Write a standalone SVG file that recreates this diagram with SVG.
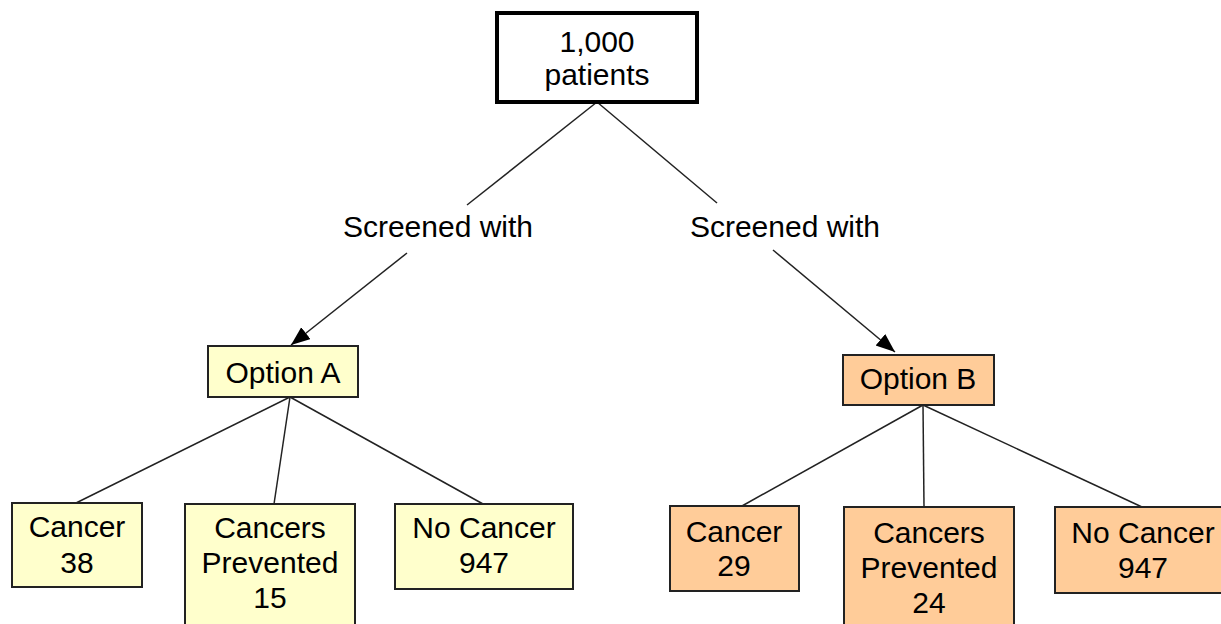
<svg xmlns="http://www.w3.org/2000/svg" width="1221" height="624" viewBox="0 0 1221 624">
<defs>
<style>
text{font-family:"Liberation Sans",Arial,sans-serif;font-size:30px;fill:#000;text-anchor:middle}
.a{fill:#FFFFCC;stroke:#222;stroke-width:2}
.b{fill:#FFCC99;stroke:#222;stroke-width:2}
.c line{stroke:#222;stroke-width:1.5}
</style>
<marker id="arr" markerUnits="userSpaceOnUse" markerWidth="20" markerHeight="16" refX="19" refY="7.5" orient="auto">
<path d="M0,0 L19,7.5 L0,15 Z" fill="#000"/>
</marker>
</defs>
<rect width="1221" height="624" fill="#fff"/>
<g id="connectors" class="c">
<line x1="597" y1="102" x2="467" y2="205"/>
<line x1="407" y1="253" x2="291" y2="345" marker-end="url(#arr)"/>
<line x1="597" y1="102" x2="717" y2="203"/>
<line x1="773" y1="250" x2="895" y2="352" marker-end="url(#arr)"/>
<line x1="290" y1="397" x2="76" y2="503"/>
<line x1="290" y1="397" x2="274" y2="504"/>
<line x1="290" y1="397" x2="483" y2="504"/>
<line x1="923" y1="405" x2="742" y2="506"/>
<line x1="923" y1="405" x2="924" y2="507"/>
<line x1="923" y1="405" x2="1142" y2="507"/>
</g>
<g id="label-left"><text x="438" y="237">Screened with</text></g>
<g id="label-right"><text x="785" y="237">Screened with</text></g>
<g id="root">
<rect x="497" y="13" width="200" height="89" fill="#fff" stroke="#000" stroke-width="4"/>
<text x="597" y="52">1,000</text>
<text x="597" y="85">patients</text>
</g>
<g id="optionA">
<rect class="a" x="208" y="346" width="150" height="51"/>
<text x="283" y="383">Option A</text>
</g>
<g id="optionB">
<rect class="b" x="843" y="355" width="151" height="50"/>
<text x="918" y="389">Option B</text>
</g>
<g id="a-cancer">
<rect class="a" x="12" y="503" width="130" height="84"/>
<text x="77" y="537">Cancer</text>
<text x="77" y="573">38</text>
</g>
<g id="a-prevented">
<rect class="a" x="185" y="504" width="170" height="130"/>
<text x="270" y="538">Cancers</text>
<text x="270" y="573">Prevented</text>
<text x="270" y="608">15</text>
</g>
<g id="a-nocancer">
<rect class="a" x="395" y="504" width="178" height="85"/>
<text x="484" y="538">No Cancer</text>
<text x="484" y="573">947</text>
</g>
<g id="b-cancer">
<rect class="b" x="670" y="506" width="129" height="85"/>
<text x="734" y="542">Cancer</text>
<text x="734" y="576">29</text>
</g>
<g id="b-prevented">
<rect class="b" x="844" y="507" width="170" height="130"/>
<text x="929" y="543">Cancers</text>
<text x="929" y="578">Prevented</text>
<text x="929" y="613">24</text>
</g>
<g id="b-nocancer">
<rect class="b" x="1055" y="507" width="177" height="86"/>
<text x="1143" y="543">No Cancer</text>
<text x="1143" y="578">947</text>
</g>
</svg>
